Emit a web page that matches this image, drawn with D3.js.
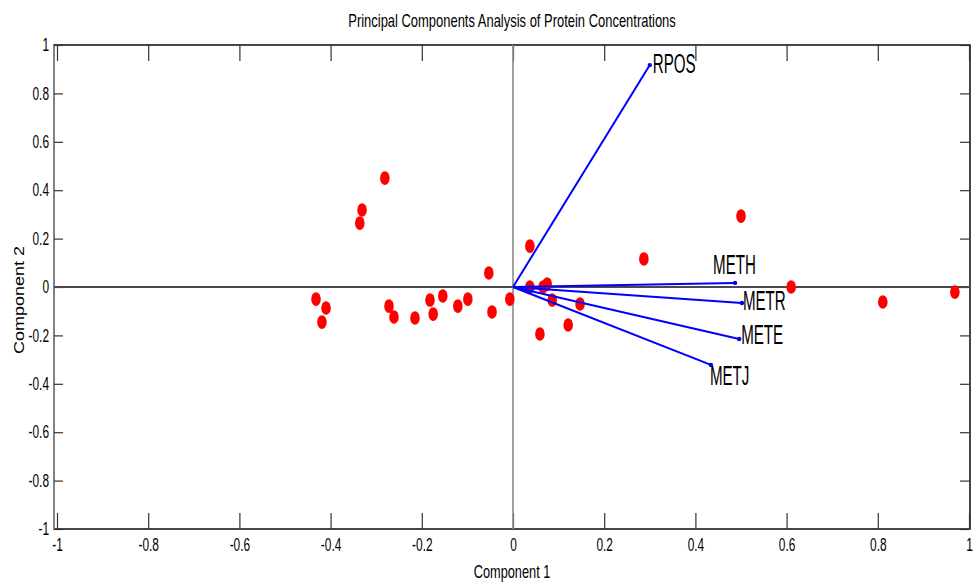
<!DOCTYPE html>
<html>
<head>
<meta charset="utf-8">
<script src="https://cdn.jsdelivr.net/npm/d3@7"></script>
<style>
  body { margin: 0; background: #fff; }
  svg text { font-family: "Liberation Sans", Arial, Helvetica, sans-serif; fill: #000; }
</style>
</head>
<body>
<svg id="chart" width="973" height="586"></svg>
<script>
// Observation scores (component 1, component 2)
const scoreX = [-0.281, -0.331, -0.336, -0.432, -0.410, -0.419, -0.272, -0.261, -0.215, -0.182,
                -0.175, -0.154, -0.121, -0.099, -0.053, -0.046, -0.007, 0.037, 0.037, 0.059,
                0.066, 0.075, 0.086, 0.121, 0.147, 0.287, 0.500, 0.610, 0.811, 0.969];
const scoreY = [0.450, 0.318, 0.264, -0.050, -0.087, -0.145, -0.079, -0.124, -0.128, -0.054,
                -0.112, -0.037, -0.079, -0.050, 0.058, -0.103, -0.050, 0.169, 0.000, -0.194,
                0.000, 0.012, -0.054, -0.157, -0.070, 0.116, 0.293, 0.000, -0.062, -0.021];

// Variable loadings
const varNames = ["RPOS", "METH", "METR", "METE", "METJ"];
const loadX = [0.300, 0.487, 0.502, 0.496, 0.434];
const loadY = [0.917, 0.017, -0.066, -0.215, -0.322];

const tickValues = [-1, -0.8, -0.6, -0.4, -0.2, 0, 0.2, 0.4, 0.6, 0.8, 1];

const titleText = "Principal Components Analysis of Protein Concentrations";
const xLabelText = "Component 1";
const yLabelText = "Component 2";

// pixel nudges for the variable labels, relative to each vector tip
const labelNudge = [[3, 8], [-22, -9], [1, 7], [2, 5], [-1, 20]];

const svg = d3.select("#chart");
const box = { left: 54, right: 970, top: 45, bottom: 529 };
const x = d3.scaleLinear().domain([-1, 1]).range([57, 969]);
const y = d3.scaleLinear().domain([-1, 1]).range([box.bottom, box.top]);
const SQ = 0.66;   // horizontal condensing of the text

const fmt = v => (v === 0 ? "0" : String(v));

// frame
svg.append("rect")
  .attr("x", box.left).attr("y", box.top)
  .attr("width", box.right - box.left).attr("height", box.bottom - box.top)
  .attr("fill", "none").attr("stroke", "#1a1a1a").attr("stroke-width", 1.6);
svg.append("line")
  .attr("x1", box.left).attr("x2", box.left).attr("y1", box.top).attr("y2", box.bottom)
  .attr("stroke", "#8a8a8a").attr("stroke-width", 1.8);

function styleAxis(g) {
  g.select(".domain").remove();
  g.selectAll(".tick line").attr("stroke", "#333").attr("stroke-width", 1.2);
  g.selectAll("text").attr("font-size", 18).attr("fill", "#222");
}

// bottom axis with labels
const gb = svg.append("g").attr("transform", `translate(0,${box.bottom})`)
  .call(d3.axisBottom(x).tickValues(tickValues).tickFormat(fmt).tickSize(-16).tickSizeOuter(0).tickPadding(9))
  .call(styleAxis);
gb.selectAll(".tick text").attr("transform", `scale(${SQ},1)`);

// top axis, ticks only
svg.append("g").attr("transform", `translate(0,${box.top})`)
  .call(d3.axisTop(x).tickValues(tickValues).tickFormat("").tickSize(-16).tickSizeOuter(0))
  .call(styleAxis);

// left axis with labels
const gl = svg.append("g").attr("transform", `translate(${box.left},0)`)
  .call(d3.axisLeft(y).tickValues(tickValues).tickFormat(fmt).tickSize(-9).tickSizeOuter(0).tickPadding(4))
  .call(styleAxis);
gl.selectAll(".tick text").attr("x", -5 / SQ).attr("transform", `scale(${SQ},1)`);

// right axis, ticks only
svg.append("g").attr("transform", `translate(${box.right - 1},0)`)
  .call(d3.axisRight(y).tickValues(tickValues).tickFormat("").tickSize(-9).tickSizeOuter(0))
  .call(styleAxis);

// zero lines
svg.append("line")
  .attr("x1", box.left).attr("x2", box.right).attr("y1", y(0)).attr("y2", y(0))
  .attr("stroke", "#4a4a4a").attr("stroke-width", 1.8);
svg.append("line")
  .attr("x1", x(0)).attr("x2", x(0)).attr("y1", box.top).attr("y2", box.bottom)
  .attr("stroke", "#8a8a8a").attr("stroke-width", 1.6);

// observation scores
svg.append("g").selectAll("ellipse")
  .data(d3.range(scoreX.length))
  .join("ellipse")
  .attr("cx", i => x(scoreX[i])).attr("cy", i => y(scoreY[i]))
  .attr("rx", 4.8).attr("ry", 6.8)
  .attr("fill", "#ff0000");

// loading vectors
const vec = svg.append("g");
vec.selectAll("line")
  .data(d3.range(varNames.length))
  .join("line")
  .attr("x1", x(0)).attr("y1", y(0))
  .attr("x2", i => x(loadX[i])).attr("y2", i => y(loadY[i]))
  .attr("stroke", "#0000ff").attr("stroke-width", 2);
vec.selectAll("circle")
  .data(d3.range(varNames.length))
  .join("circle")
  .attr("cx", i => x(loadX[i])).attr("cy", i => y(loadY[i]))
  .attr("r", 2.2).attr("fill", "#0000ff");

svg.append("g").selectAll("text")
  .data(d3.range(varNames.length))
  .join("text")
  .attr("transform", i => `translate(${x(loadX[i]) + labelNudge[i][0]},${y(loadY[i]) + labelNudge[i][1]}) scale(0.56,1)`)
  .attr("font-size", 27)
  .text(i => varNames[i]);

// title and axis labels
svg.append("text")
  .attr("transform", `translate(512,27) scale(0.72,1)`)
  .attr("text-anchor", "middle").attr("font-size", 18).attr("fill", "#222")
  .text(titleText);
svg.append("text")
  .attr("transform", `translate(512,578) scale(0.71,1)`)
  .attr("text-anchor", "middle").attr("font-size", 18).attr("fill", "#222")
  .text(xLabelText);
svg.append("text")
  .attr("transform", `translate(24,300) scale(0.85,1) rotate(-90)`)
  .attr("text-anchor", "middle").attr("font-size", 18).attr("fill", "#222")
  .text(yLabelText);
</script>
</body>
</html>
